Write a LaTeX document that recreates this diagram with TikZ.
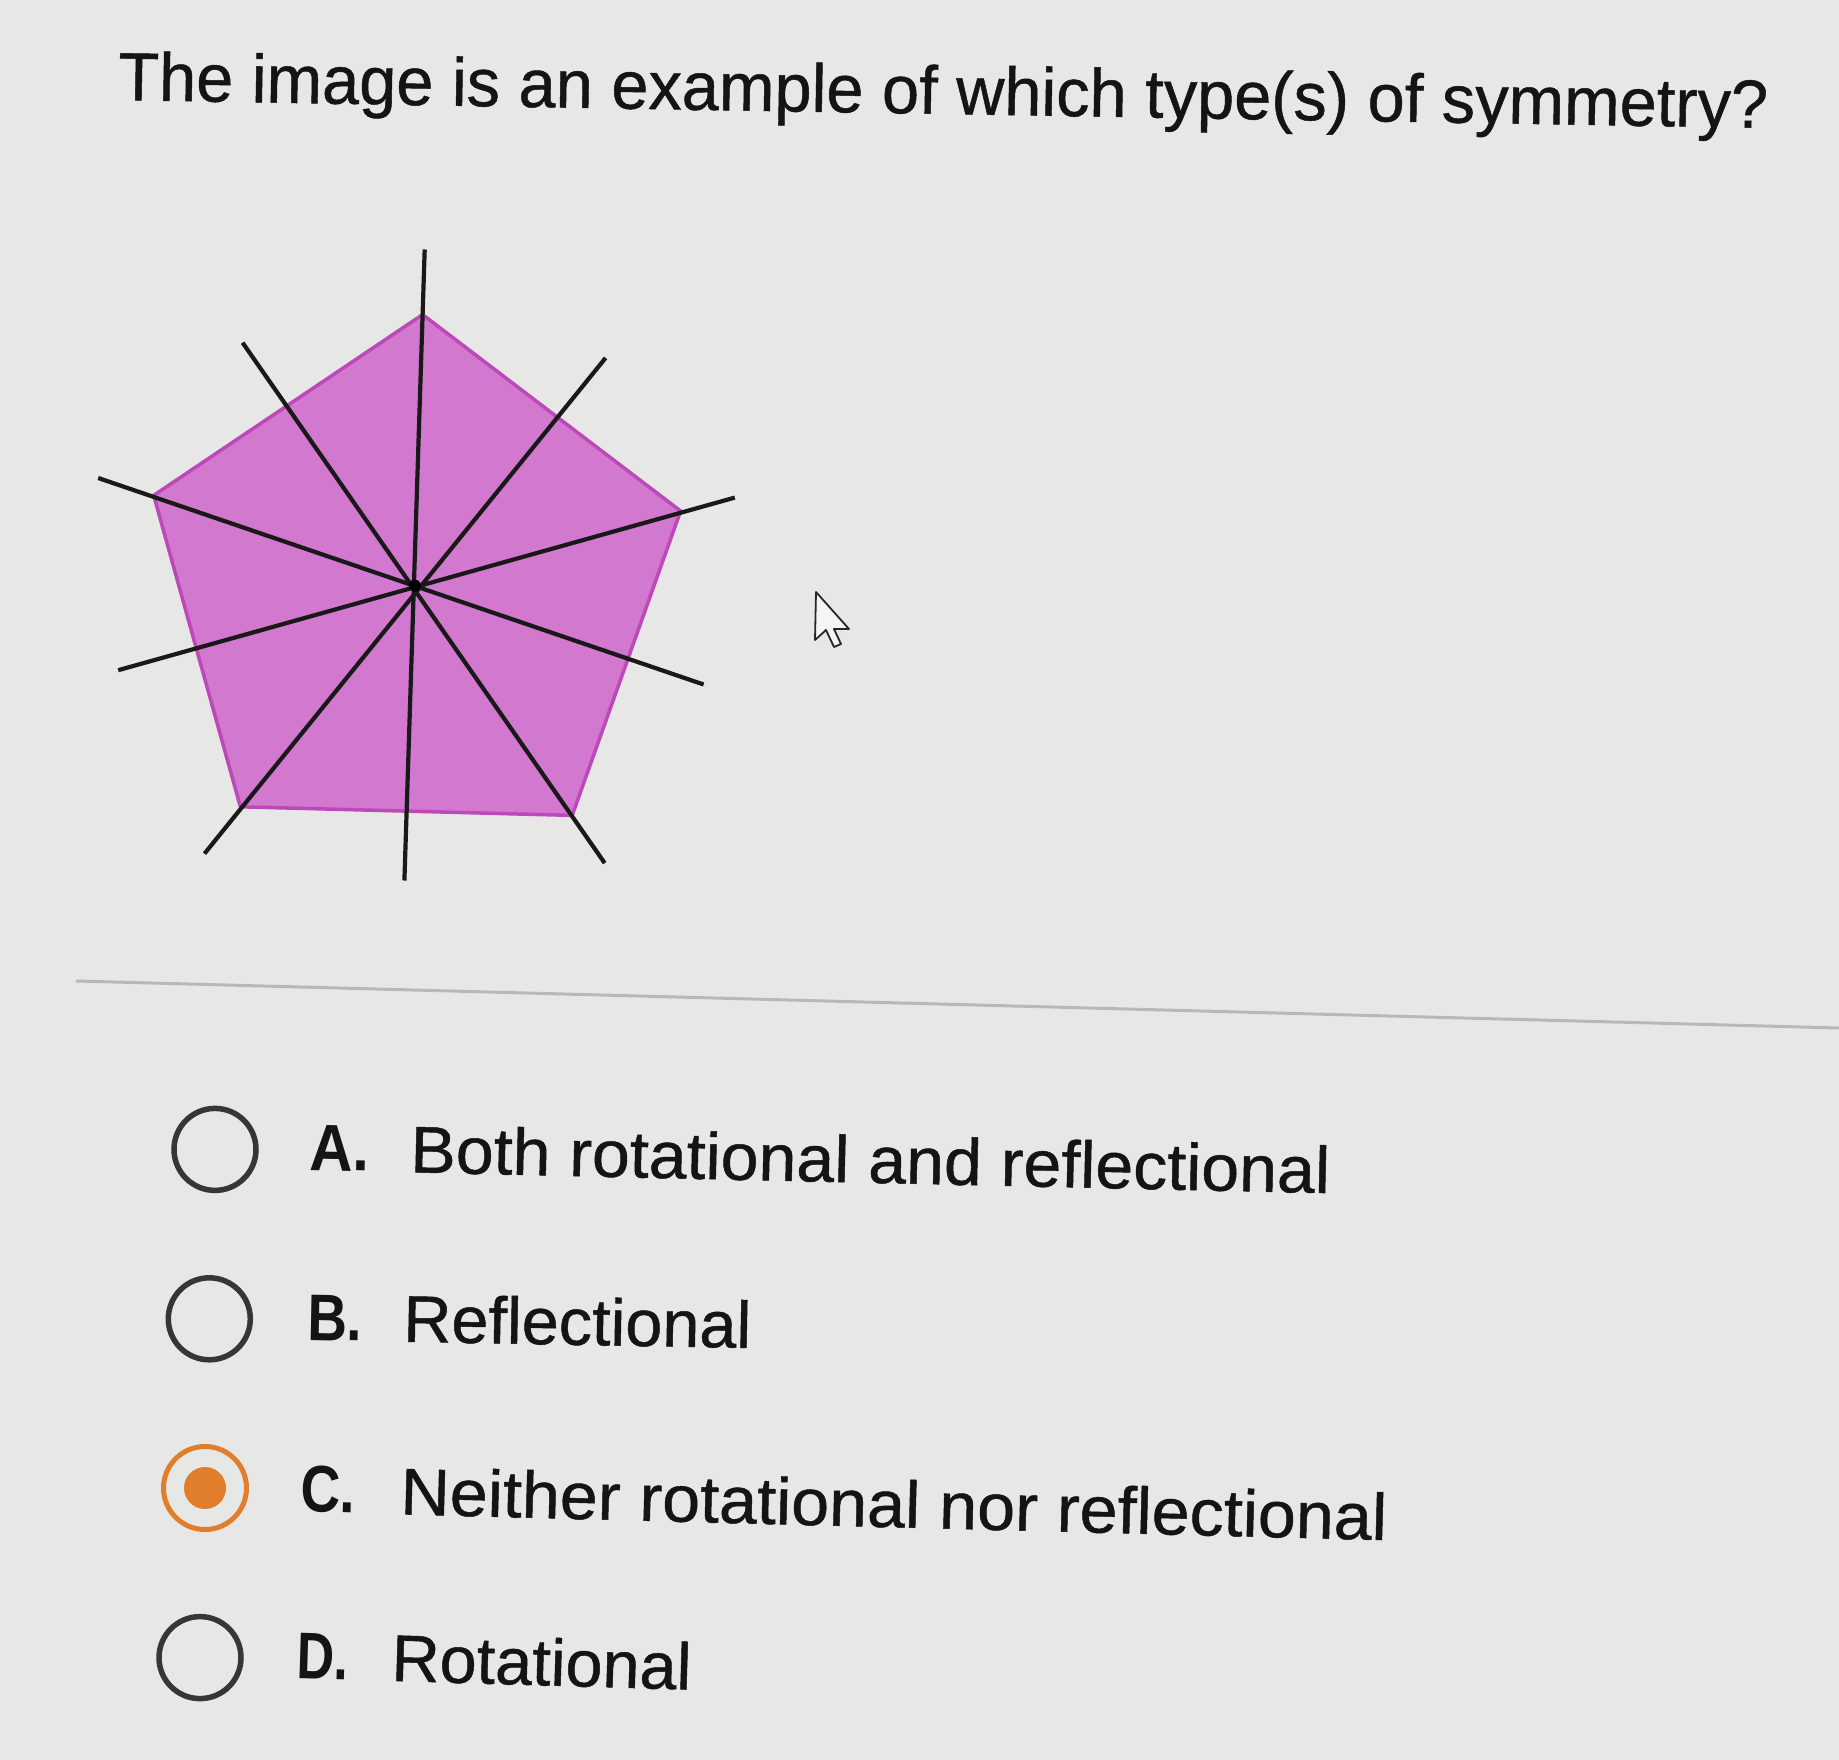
\documentclass[tikz,border=0pt]{standalone}
\usepackage{fontspec}
\setmainfont{Liberation Sans}
\newfontfamily\qfont{Liberation Sans}[FakeBold=0.7]
\usepackage{graphicx}
\newcommand{\fitw}[2]{\resizebox{#1}{\height}{#2}}
\definecolor{bgc}{HTML}{E7E7E5}
\definecolor{txtc}{HTML}{141414}
\definecolor{pentfill}{HTML}{D278CE}
\definecolor{pentedge}{HTML}{BC48BA}
\definecolor{ringc}{HTML}{363636}
\definecolor{orangec}{HTML}{E07E2C}
\definecolor{divc}{HTML}{B8B8B6}
\tikzset{
  txt/.style={inner sep=0pt, outer sep=0pt, anchor=base west, text=txtc},
  ring/.style={circle, draw=ringc, line width=5.5pt, minimum size=82pt, inner sep=0pt},
  selring/.style={circle, draw=orangec, line width=5pt, minimum size=83pt, inner sep=0pt},
  seldot/.style={circle, fill=orangec, minimum size=42pt, inner sep=0pt},
  symline/.style={draw=black!90, line width=4.2pt},
}
\begin{document}
\begin{tikzpicture}[x=1pt,y=-1pt]
\useasboundingbox (0,0) rectangle (1839,1760);
\fill[bgc] (0,0) rectangle (1839,1760);

% title
\node[txt, rotate=-0.97] (title) at (118,100)
  {\fitw{1650pt}{\fontsize{68}{80}\qfont The image is an example of which type(s) of symmetry?}};

% pentagon
\coordinate (T)  at (422.6,314.6);
\coordinate (R)  at (680.6,511);
\coordinate (BR) at (572.2,815.4);
\coordinate (BL) at (240.4,806.8);
\coordinate (L)  at (153.7,495.4);
\coordinate (O)  at (414.8,585.6);
\filldraw[fill=pentfill, draw=pentedge, line width=3.5pt, line join=round]
  (T) -- (R) -- (BR) -- (BL) -- (L) -- cycle;

% symmetry lines
\coordinate (a1) at (424.7,249.5); \coordinate (a2) at (404.4,880.5);
\coordinate (b1) at (242.6,342.7); \coordinate (b2) at (604.7,863.1);
\coordinate (c1) at (605.6,357.9); \coordinate (c2) at (204.5,853.6);
\coordinate (d1) at (98.2,478);    \coordinate (d2) at (703.6,684.5);
\coordinate (e1) at (734.8,497.6); \coordinate (e2) at (118.2,670.2);
\draw[symline] (a1) -- (a2);
\draw[symline] (b1) -- (b2);
\draw[symline] (c1) -- (c2);
\draw[symline] (d1) -- (d2);
\draw[symline] (e1) -- (e2);
\fill[black] (O) circle[radius=6pt];

% mouse cursor
\coordinate (k1) at (816,592); \coordinate (k2) at (815,640);
\coordinate (k3) at (826,630); \coordinate (k4) at (834,647);
\coordinate (k5) at (841,644); \coordinate (k6) at (834,629);
\coordinate (k7) at (849,629);
\filldraw[fill=white!60!bgc, draw=black!85, line width=1.8pt, line join=round]
  (k1) -- (k2) -- (k3) -- (k4) -- (k5) -- (k6) -- (k7) -- cycle;

% divider
\coordinate (dv1) at (76,981);
\coordinate (dv2) at (1839,1028);
\draw[divc, line width=3pt] (dv1) -- (dv2);

% options
\node[ring] (ca) at (215,1149.4) {};
\node[txt, rotate=-1.3] (la) at (309,1170) {\fitw{60pt}{\fontsize{66}{78}\selectfont\bfseries A.}};
\node[txt, rotate=-1.3] (ta) at (410,1172.3) {\fitw{920pt}{\fontsize{66}{78}\qfont Both rotational and reflectional}};

\node[ring] (cb) at (209.3,1318.8) {};
\node[txt, rotate=-1.03] (lb) at (307,1340) {\fitw{55pt}{\fontsize{66}{78}\selectfont\bfseries B.}};
\node[txt, rotate=-1.03] (tb) at (403,1341.7) {\fitw{348pt}{\fontsize{66}{78}\qfont Reflectional}};

\node[selring] (cc) at (205,1488) {};
\node[seldot] (dc) at (205,1488) {};
\node[txt, rotate=-1.5] (lc) at (300,1511.7) {\fitw{55pt}{\fontsize{66}{78}\selectfont\bfseries C.}};
\node[txt, rotate=-1.5] (tc) at (400,1514.3) {\fitw{987pt}{\fontsize{66}{78}\qfont Neither rotational nor reflectional}};

\node[ring] (cd) at (200,1657.6) {};
\node[txt, rotate=-1.7] (ld) at (296,1678) {\fitw{52pt}{\fontsize{66}{78}\selectfont\bfseries D.}};
\node[txt, rotate=-1.7] (td) at (391,1680.8) {\fitw{300pt}{\fontsize{66}{78}\qfont Rotational}};
\end{tikzpicture}
\end{document}
